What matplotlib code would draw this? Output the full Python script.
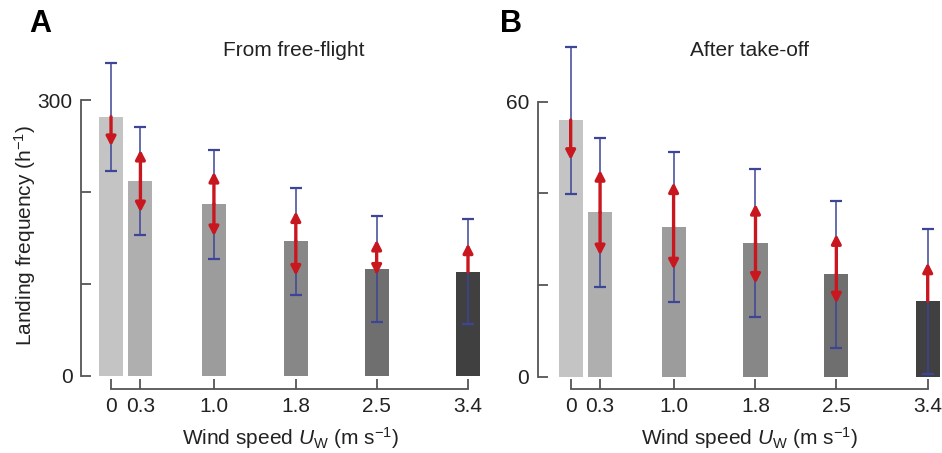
import matplotlib
matplotlib.use('Agg')

import matplotlib.pyplot as plt

plt.rcParams['font.family'] = ['Liberation Sans', 'DejaVu Sans']
plt.rcParams['mathtext.fontset'] = 'custom'
plt.rcParams['mathtext.rm'] = 'Liberation Sans'
plt.rcParams['mathtext.it'] = 'Liberation Sans:italic'
plt.rcParams['mathtext.sf'] = 'Liberation Sans'

# wind speeds (measured positions) and their tick labels
wind = [0, 0.28, 0.98, 1.76, 2.53, 3.4]
wind_labels = ['0', '0.3', '1.0', '1.8', '2.5', '3.4']
bar_colors = ['#c4c4c4', '#afafaf', '#9c9c9c', '#878787', '#6f6f6f', '#404040']

# A: from free-flight
freeflight = [282, 212, 187, 147, 116, 113]
freeflight_err_hi = [340, 271, 246, 204, 174, 171]
freeflight_err_lo = [223, 153, 127, 88, 58, 56]
freeflight_up = [None, 246, 222, 179, 148, 144]
freeflight_down = [250, 178, 152, 109, 110, None]

# B: after take-off
takeoff = [56.0, 35.9, 32.7, 29.2, 22.4, 16.5]
takeoff_err_hi = [71.9, 52.1, 49.1, 45.3, 38.3, 32.2]
takeoff_err_lo = [39.9, 19.6, 16.3, 13.1, 6.3, 0.6]
takeoff_up = [None, 45.1, 42.4, 37.7, 31.1, 24.9]
takeoff_down = [47.3, 26.5, 23.4, 20.3, 16.0, None]

red = '#c8171f'
blue = '#3d4596'
txt = '#222222'


def draw_panel(ax, vals, hi, lo, up, down, yticks, ylim, xlim):
    ax.bar(wind, vals, width=0.23, color=bar_colors, zorder=1)
    for x, v, h, l in zip(wind, vals, hi, lo):
        ax.errorbar(x, v, yerr=[[v - l], [h - v]], fmt='none', ecolor=blue,
                    elinewidth=1.1, capsize=4.5, capthick=1.6, zorder=3)
    for x, v, u, d in zip(wind, vals, up, down):
        for tip in (u, d):
            if tip is None:
                continue
            ax.annotate('', xy=(x, tip), xytext=(x, v),
                        arrowprops=dict(arrowstyle='-|>,head_length=0.27,head_width=0.14',
                                        color=red, lw=2.4, shrinkA=0, shrinkB=0,
                                        mutation_scale=20),
                        zorder=4)
    ax.set_xlim(*xlim)
    ax.set_ylim(*ylim)
    ax.set_xticks(wind)
    ax.set_xticklabels(wind_labels)
    ax.set_yticks(yticks)
    ax.set_yticklabels([str(yticks[0]), '', '', str(yticks[-1])])
    for s in ['top', 'right']:
        ax.spines[s].set_visible(False)
    ax.spines['left'].set_bounds(yticks[0], yticks[-1])
    ax.spines['bottom'].set_bounds(wind[0], wind[-1])
    for s in ['left', 'bottom']:
        ax.spines[s].set_color('#555555')
        ax.spines[s].set_linewidth(1.3)
    ax.tick_params(direction='in', length=7, width=1.3, color='#555555',
                   labelsize=15, labelcolor=txt, pad=6)


fig = plt.figure(figsize=(9.42, 4.53), dpi=100)

axA = fig.add_axes([81 / 942, 64 / 453, 399.6 / 942, 330.1 / 453])
draw_panel(axA, freeflight, freeflight_err_hi, freeflight_err_lo,
           freeflight_up, freeflight_down, [0, 100, 200, 300],
           (-14.5, 345), (-0.286, 3.52))

axB = fig.add_axes([537.7 / 942, 64 / 453, 402.6 / 942, 346.9 / 453])
draw_panel(axB, takeoff, takeoff_err_hi, takeoff_err_lo,
           takeoff_up, takeoff_down, [0, 20, 40, 60],
           (-2.68, 73), (-0.314, 3.52))

fig.text(294 / 942, 1 - 50 / 453, 'From free-flight', ha='center', va='center',
         fontsize=15, color=txt)
fig.text(749 / 942, 1 - 50 / 453, 'After take-off', ha='center', va='center',
         fontsize=15, color=txt)
fig.text(40 / 942, 1 - 24 / 453, 'A', ha='center', va='center',
         fontsize=22, fontweight='bold', color='black')
fig.text(511 / 942, 1 - 24 / 453, 'B', ha='center', va='center',
         fontsize=22, fontweight='bold', color='black')

xlab = r'Wind speed $U_\mathrm{W}$ (m s$^{-1}$)'
fig.text(290 / 942, 1 - 438 / 453, xlab, ha='center', va='center', fontsize=15, color=txt)
fig.text(749 / 942, 1 - 438 / 453, xlab, ha='center', va='center', fontsize=15, color=txt)
fig.text(25 / 942, 1 - 235 / 453, r'Landing frequency (h$^{-1}$)', ha='center', va='center',
         rotation=90, fontsize=15, color=txt)

fig.savefig('out.png', dpi=100)
